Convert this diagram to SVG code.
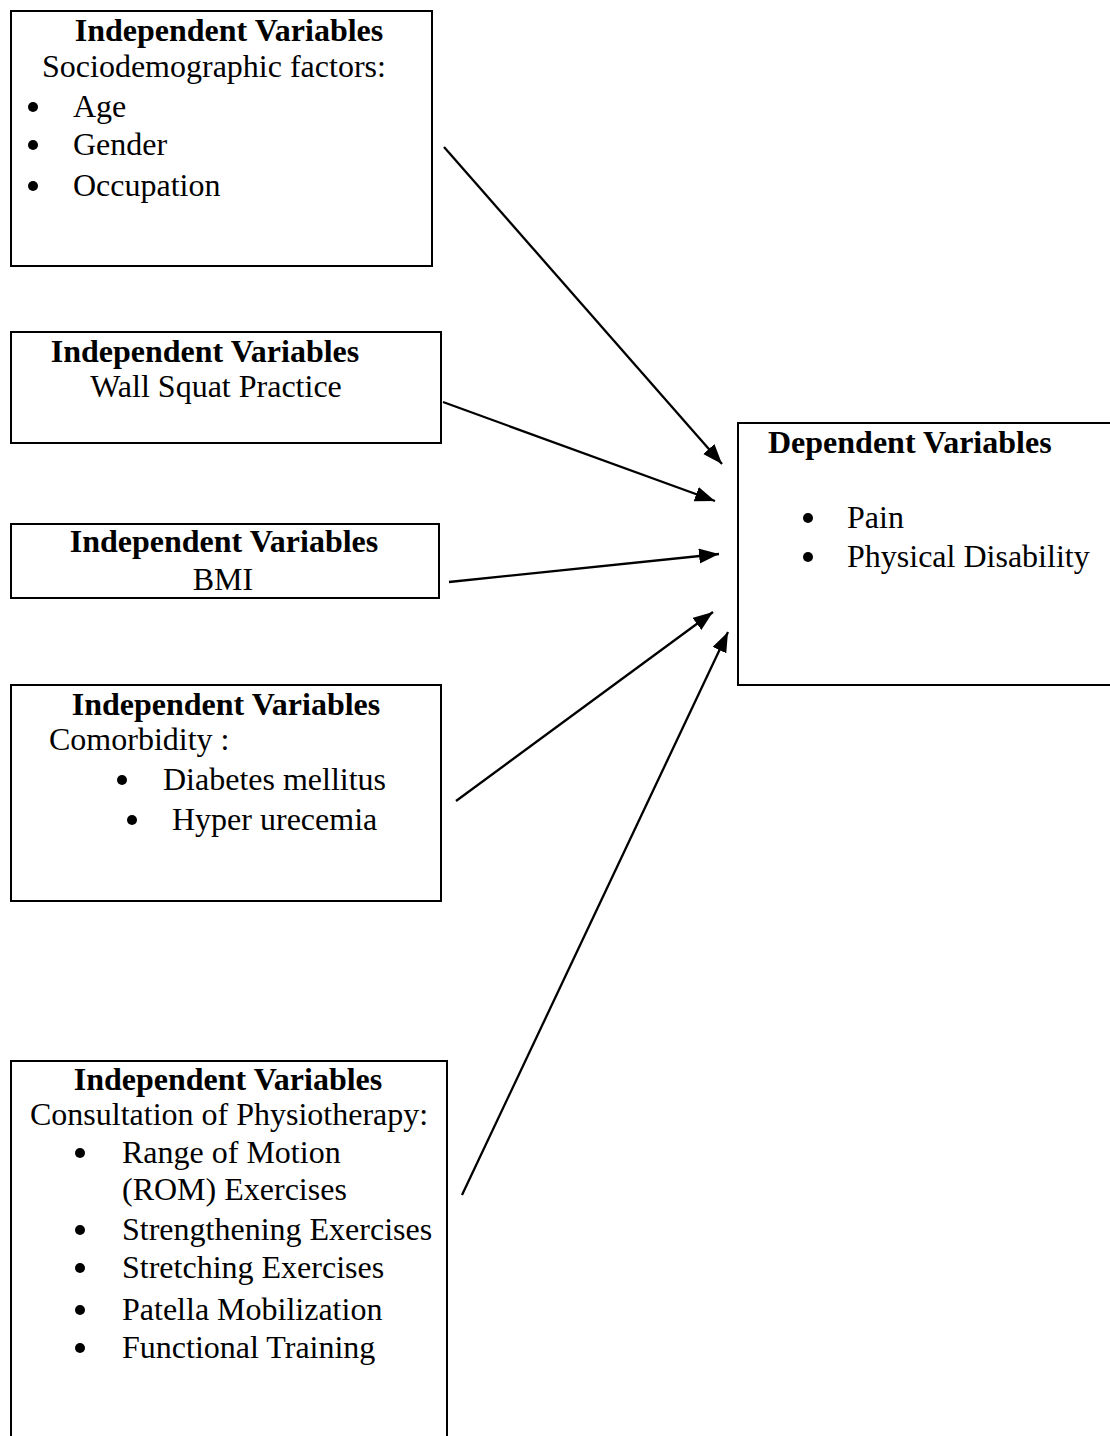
<svg xmlns="http://www.w3.org/2000/svg" width="1110" height="1436" viewBox="0 0 1110 1436">
<style>
.box{fill:#fff;stroke:#000;stroke-width:2}
text{font-family:"Liberation Serif","Times New Roman",serif;font-size:32px;fill:#000}
.t{font-weight:bold;text-anchor:middle}
.c{text-anchor:middle}
.b{fill:#000}
.ln{stroke:#000;stroke-width:2.3;fill:none;marker-end:url(#ah)}
</style>
<defs>
<marker id="ah" markerUnits="userSpaceOnUse" markerWidth="22" markerHeight="16" refX="20" refY="7.5" orient="auto">
<path d="M0,0 L20,7.5 L0,15 z" fill="#000"/>
</marker>
</defs>
<rect width="1110" height="1436" fill="#fff"/>
<g id="node-socio">
<rect class="box" x="11" y="11" width="421" height="255"/>
<text class="t" x="229" y="41">Independent Variables</text>
<text x="42" y="77">Sociodemographic factors:</text>
<circle class="b" cx="33" cy="107" r="5"/><text x="73" y="117">Age</text>
<circle class="b" cx="33" cy="145" r="5"/><text x="73" y="155">Gender</text>
<circle class="b" cx="33" cy="186" r="5"/><text x="73" y="196">Occupation</text>
</g>
<g id="node-wallsquat">
<rect class="box" x="11" y="332" width="430" height="111"/>
<text class="t" x="205" y="362">Independent Variables</text>
<text class="c" x="216" y="397">Wall Squat Practice</text>
</g>
<g id="node-bmi">
<rect class="box" x="11" y="524" width="428" height="74"/>
<text class="t" x="224" y="552">Independent Variables</text>
<text class="c" x="223" y="590">BMI</text>
</g>
<g id="node-comorbidity">
<rect class="box" x="11" y="685" width="430" height="216"/>
<text class="t" x="226" y="715">Independent Variables</text>
<text x="49" y="750">Comorbidity :</text>
<circle class="b" cx="122" cy="780" r="5"/><text x="163" y="790">Diabetes mellitus</text>
<circle class="b" cx="132" cy="820" r="5"/><text x="172" y="830">Hyper urecemia</text>
</g>
<g id="node-physio">
<rect class="box" x="11" y="1061" width="436" height="390"/>
<text class="t" x="228" y="1090">Independent Variables</text>
<text x="30" y="1125">Consultation of Physiotherapy:</text>
<circle class="b" cx="80" cy="1153" r="5"/><text x="122" y="1163">Range of Motion</text>
<text x="122" y="1200">(ROM) Exercises</text>
<circle class="b" cx="80" cy="1230" r="5"/><text x="122" y="1240">Strengthening Exercises</text>
<circle class="b" cx="80" cy="1268" r="5"/><text x="122" y="1278">Stretching Exercises</text>
<circle class="b" cx="80" cy="1310" r="5"/><text x="122" y="1320">Patella Mobilization</text>
<circle class="b" cx="80" cy="1348" r="5"/><text x="122" y="1358">Functional Training</text>
</g>
<g id="node-dependent">
<rect class="box" x="738" y="423" width="380" height="262"/>
<text x="768" y="453" font-weight="bold">Dependent Variables</text>
<circle class="b" cx="808" cy="518" r="5"/><text x="847" y="528">Pain</text>
<circle class="b" cx="808" cy="557" r="5"/><text x="847" y="567">Physical Disability</text>
</g>
<g id="connectors">
<line class="ln" x1="444" y1="147" x2="722" y2="464"/>
<line class="ln" x1="443" y1="402" x2="715" y2="501"/>
<line class="ln" x1="449" y1="582" x2="719" y2="554"/>
<line class="ln" x1="456" y1="801" x2="713" y2="612"/>
<line class="ln" x1="462" y1="1195" x2="728" y2="632"/>
</g>
</svg>
